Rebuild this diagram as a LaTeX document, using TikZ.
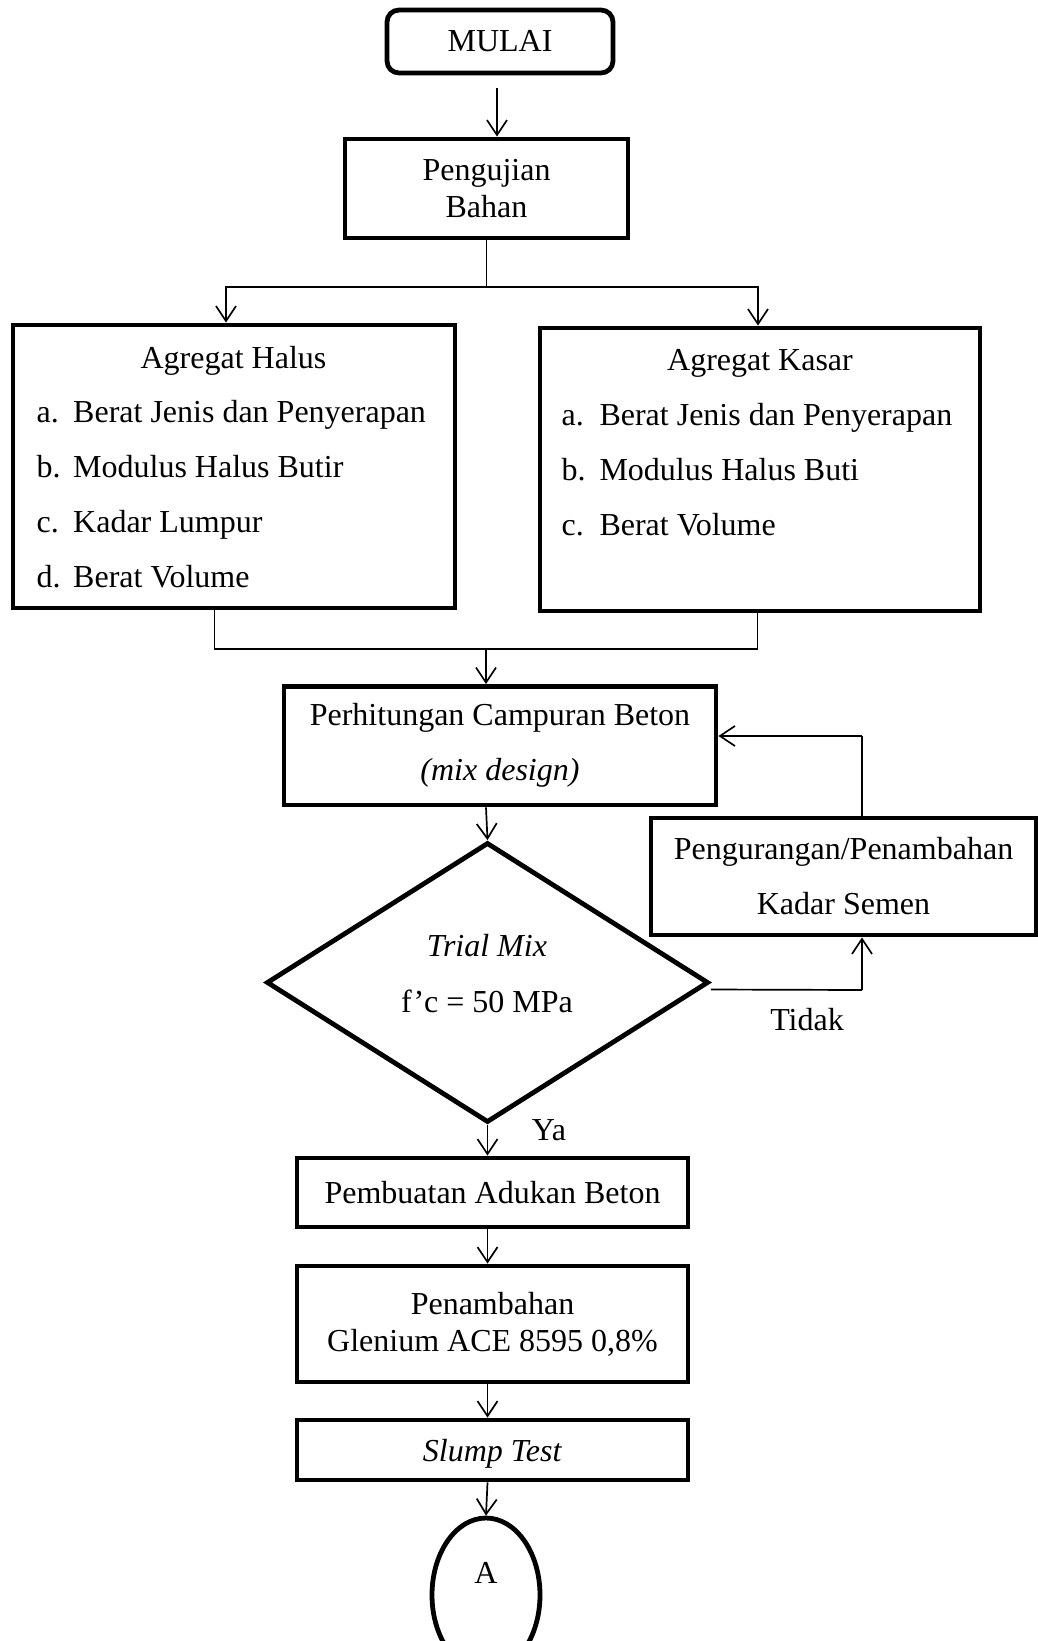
\documentclass[tikz,border=0pt]{standalone}
\usepackage{fontspec}
\setmainfont{Liberation Serif}
\usetikzlibrary{arrows.meta,shapes.geometric}
\begin{document}
\begin{tikzpicture}[x=1pt,y=-1pt,
  every node/.style={font=\fontsize{32}{36.8}\selectfont, inner sep=0pt},
  box/.style={draw, line width=4.8pt, rectangle, align=center},
  lbl/.style={anchor=base},
  item/.style={anchor=base west},
  conn/.style={line width=1.7pt},
  arr/.style={conn, -{Straight Barb[length=15pt,width=20pt]}}]
\useasboundingbox (0,0) rectangle (1038,1641);
\clip (0,0) rectangle (1038,1641);

% boxes
\node[box, rounded corners=12pt, minimum width=226pt, minimum height=63pt] (mulai) at (500,41.5) {MULAI};
\node[box, minimum width=283pt, minimum height=99pt] (pengujian) at (486.5,188.5) {Pengujian\\Bahan};
\node[box, minimum width=442pt, minimum height=283pt] (halus) at (234,466.5) {};
\node[box, minimum width=440pt, minimum height=283pt] (kasar) at (760,469.5) {};
\node[box, minimum width=432pt, minimum height=118.5pt] (perhitungan) at (500,745.75) {Perhitungan Campuran Beton\\[18.2pt]\textit{(mix design)}};
\node[draw, line width=4.8pt, diamond, minimum width=442pt, minimum height=280pt] (trial) at (487.5,982.5) {};
\node[box, minimum width=385pt, minimum height=117pt] (pengurangan) at (843.5,876.5) {Pengurangan/Penambahan\\[18.2pt]Kadar Semen};
\node[box, minimum width=391pt, minimum height=69pt] (pembuatan) at (492.5,1192.5) {Pembuatan Adukan Beton};
\node[box, minimum width=391pt, minimum height=116pt] (penambahan) at (492.5,1324) {Penambahan\\Glenium ACE 8595 0,8\%};
\node[box, minimum width=391pt, minimum height=60pt, text depth=0pt] (slump) at (492.5,1450) {\textit{Slump Test}};
\node[draw, line width=4.8pt, ellipse, minimum width=108pt, minimum height=154pt] (konektor) at (486,1595) {};

% texts in the aggregate boxes
\node[lbl] (halusH) at (233.5,368) {Agregat Halus};
\node[item] (ha) at (36.5,422.7) {a.};
\node[item] (hat) at (73,422.7) {Berat Jenis dan Penyerapan};
\node[item] (hb) at (36.5,477.7) {b.};
\node[item] (hbt) at (73,477.7) {Modulus Halus Butir};
\node[item] (hc) at (36.5,532.7) {c.};
\node[item] (hct) at (73,532.7) {Kadar Lumpur};
\node[item] (hd) at (36.5,587.3) {d.};
\node[item] (hdt) at (73,587.3) {Berat Volume};

\node[lbl] (kasarH) at (760,370) {Agregat Kasar};
\node[item] (ka) at (561.5,425.7) {a.};
\node[item] (kat) at (599.3,425.7) {Berat Jenis dan Penyerapan};
\node[item] (kb) at (561.5,480.7) {b.};
\node[item] (kbt) at (599.3,480.7) {Modulus Halus Buti};
\node[item] (kc) at (561.5,535.7) {c.};
\node[item] (kct) at (599.3,535.7) {Berat Volume};

% diamond and connector texts
\node[lbl] (trialA) at (487,956.7) {\textit{Trial Mix}};
\node[lbl] (trialB) at (487,1012.7) {f’c = 50 MPa};
\node[lbl] (konA) at (486,1583) {A};
\node[lbl] (tidakL) at (807,1030) {Tidak};
\node[lbl] (yaL) at (549,1140.5) {Ya};

% connectors
\coordinate (split) at (486.5,287);
\coordinate (merge) at (486,649);
\coordinate (tidak) at (862,990);
\coordinate (back) at (862,736);
\coordinate (mstart) at (497,88);

\draw[arr] (mstart) -- (mstart |- pengujian.north);
\draw[conn] (pengujian.south) -- (split);
\draw[arr] (split) -| ([xshift=-8pt]halus.north);
\draw[arr] (split) -| ([xshift=-2pt]kasar.north);
\draw[conn] ([xshift=-19.5pt]halus.south) |- (merge);
\draw[conn] ([xshift=-2.4pt]kasar.south) |- (merge);
\draw[arr] (merge) -- (merge |- perhitungan.north);
\draw[arr] (merge |- perhitungan.south) -- (trial.north);
\draw[conn] ([yshift=-7pt]trial.east) -- (tidak);
\draw[arr] (tidak) -- (tidak |- pengurangan.south);
\draw[conn] (pengurangan.north -| tidak) -- (back);
\draw[arr] (back) -- (back -| perhitungan.east);
\draw[arr] (trial.south) -- (trial.south |- pembuatan.north);
\draw[arr] (trial.south |- pembuatan.south) -- (trial.south |- penambahan.north);
\draw[arr] (trial.south |- penambahan.south) -- (trial.south |- slump.north);
\draw[arr] (trial.south |- slump.south) -- (konektor.north);
\end{tikzpicture}
\end{document}
